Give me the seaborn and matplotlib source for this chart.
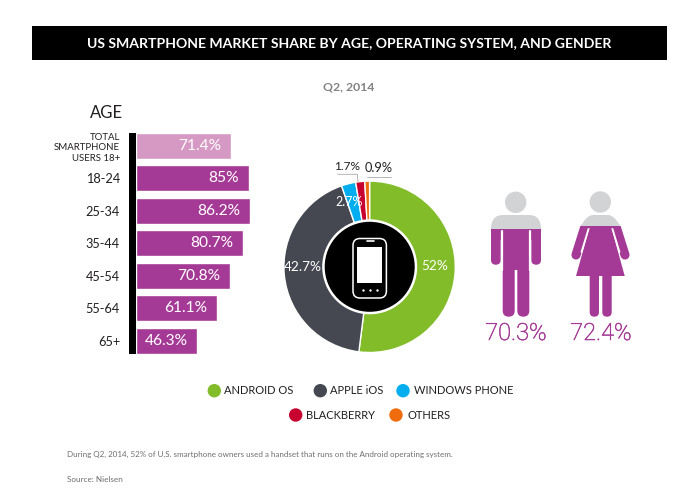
import matplotlib
matplotlib.use("Agg")
import matplotlib.pyplot as plt
import matplotlib.patheffects as pe
import seaborn as sns
from matplotlib.patches import Circle, FancyBboxPatch, PathPatch, Polygon, Rectangle
from matplotlib.path import Path

# data
ages = ["TOTAL\nSMARTPHONE\nUSERS 18+", "18-24", "25-34", "35-44", "45-54", "55-64", "65+"]
age_share = [71.4, 85, 86.2, 80.7, 70.8, 61.1, 46.3]
systems = ["ANDROID OS", "APPLE iOS", "WINDOWS PHONE", "BLACKBERRY", "OTHERS"]
os_share = [52, 42.7, 2.7, 1.7, 0.9]
gender_share = [70.3, 72.4]

PURPLE = "#A53A96"
LIGHT_PURPLE = "#D699C3"
GREY = "#D1D3D4"
INK = "#231F20"
os_colors = ["#82BC29", "#454850", "#00AEEF", "#C8002F", "#EF6C0E"]

sns.set_theme(style="white")
plt.rcParams["font.family"] = ["Lato", "DejaVu Sans"]

W, H = 695, 496
fig = plt.figure(figsize=(W / 100, H / 100), dpi=100, facecolor="white")


def px_axes(left, top, right, bottom, **kw):
    return fig.add_axes([left / W, 1 - bottom / H, (right - left) / W, (bottom - top) / H], **kw)


# age bars
ax = px_axes(136, 129.8, 268.6, 356.8)
sns.barplot(x=age_share, y=ages, hue=ages, palette=[LIGHT_PURPLE] + [PURPLE] * 6, legend=False,
            saturation=1, width=0.8, dodge=False, ax=ax)
ax.set_xlim(0, 100)
ax.set_ylim(6.5, -0.5)
ax.set_xticks([])
ax.set_xlabel("")
ax.set_ylabel("")
sns.despine(ax=ax, left=True, bottom=True)
ax.patch.set_alpha(0)
ax.tick_params(axis="y", length=0, pad=11.5, labelsize=9.2, labelcolor=INK)
for i, lab in enumerate(ax.get_yticklabels()):
    if i == 0:
        lab.set_fontsize(6.9)
        lab.set_linespacing(1.25)
for c in ax.containers:
    ax.bar_label(c, fmt="%g%%", padding=-7, color="white", fontsize=11.2, label_type="edge")
for t in ax.texts:
    t.set_ha("right")
    t.set_va("center")

# operating system donut
ax_pie = px_axes(369.6 - 90, 266.8 - 90, 369.6 + 90, 266.8 + 90)
ax_pie.pie(os_share, colors=os_colors, startangle=90, counterclock=False, radius=85.7 / 90)
ax_pie.set_xlim(-1, 1)
ax_pie.set_ylim(-1, 1)

# everything else sits on a pixel-sized overlay
ov = fig.add_axes([0, 0, 1, 1], zorder=5)
ov.set_xlim(0, W)
ov.set_ylim(H, 0)
ov.axis("off")
ov.patch.set_alpha(0)

ov.add_patch(Rectangle((32, 26), 635, 34, color="black", lw=0))
ov.text(349.5, 43, "US SMARTPHONE MARKET SHARE BY AGE, OPERATING SYSTEM, AND GENDER",
        color="white", fontsize=10.1, fontweight="bold", ha="center", va="center")
ov.text(349, 87, "Q2, 2014", color="#808285", fontsize=8.8, fontweight="bold", ha="center", va="center")
ov.text(123, 112.5, "AGE", color=INK, fontsize=12, ha="right", va="center")
ov.add_patch(Rectangle((128.7, 132.5), 7.3, 221, color="black", lw=0))

# centre of the donut with the phone
ox, oy = 369.7, 266.8
ov.add_patch(Circle((ox, oy), 47.5, color="white", lw=0))
ov.add_patch(Circle((ox, oy), 45, color="black", lw=0))
ov.add_patch(FancyBboxPatch((353, 238.5), 33.4, 59.5, boxstyle="round,pad=0,rounding_size=7",
                            fc="black", ec="white", lw=1.1))
ov.add_patch(Rectangle((357.3, 247.3), 25, 35.4, color="white", lw=0))
ov.plot([366.5, 373.5], [241.2, 241.2], color="white", lw=1.2, solid_capstyle="round")
ov.scatter([363.3, 370, 376.7], [290.3] * 3, s=3, color="white", lw=0)

# donut labels
ov.text(434.6, 266.5, f"{os_share[0]:g}%", color="white", fontsize=9.8, ha="center", va="center")
ov.text(303, 267, f"{os_share[1]:g}%", color="white", fontsize=9.8, ha="center", va="center")
ov.text(349, 202, f"{os_share[2]:g}%", color="white", fontsize=9, ha="center", va="center")
ov.text(347, 167, f"{os_share[3]:g}%", color=INK, fontsize=8.6, ha="center", va="center")
ov.text(378.6, 168, f"{os_share[4]:g}%", color=INK, fontsize=9.2, ha="center", va="center")
ov.plot([337.7, 357.3, 358], [174.3, 174.3, 182], color="#A7A9AC", lw=0.6)
ov.plot([366.7, 390.7], [176.7, 176.7], color="#A7A9AC", lw=0.6)


# person icons: the purple part rises from the feet by the share
def person(x_draw, top, bottom, share, label, label_x):
    level = bottom - (bottom - top) * share / 100
    clip_top = Rectangle((0, 0), W, level, transform=ov.transData)
    clip_low = Rectangle((0, level), W, H - level, transform=ov.transData)
    for color, clip in ((GREY, clip_top), (PURPLE, clip_low)):
        for artist in x_draw(color):
            artist.set_clip_path(clip)
    ov.text(label_x, 333.5, label, color=PURPLE, fontsize=17, family="Roboto", fontweight="light",
            ha="center", va="center",
            path_effects=[pe.withStroke(linewidth=0.4, foreground=PURPLE)])


def rbox(x0, y0, x1, y1, r, color):
    return ov.add_patch(FancyBboxPatch((x0, y0), x1 - x0, y1 - y0, mutation_aspect=1,
                                       boxstyle=f"round,pad=0,rounding_size={r}", fc=color, ec="none"))


def man(color):
    yoke = Path([(491, 240), (491, 229), (491, 215), (503, 215), (529, 215), (541, 215), (541, 229), (541, 240), (491, 240)],
                [Path.MOVETO, Path.LINETO, Path.CURVE3, Path.CURVE3, Path.LINETO, Path.CURVE3, Path.CURVE3,
                 Path.LINETO, Path.CLOSEPOLY])
    parts = [ov.add_patch(Circle((515.7, 202.3), 10.7, fc=color, ec="none")),
             ov.add_patch(PathPatch(yoke, fc=color, ec="none")),
             rbox(491, 225, 500.7, 264.7, 4.8, color),
             rbox(531.3, 225, 541, 264.7, 4.8, color),
             ov.add_patch(Rectangle((502.7, 225), 26.6, 45, fc=color, ec="none")),
             rbox(502.7, 250, 514.7, 316.7, 6, color),
             rbox(517.3, 250, 529.3, 316.7, 6, color)]
    for xs in ([501.7, 501.7], [530.3, 530.3]):
        parts += ov.plot(xs, [231, 270], color="white", lw=1.6, zorder=2.5)
    return parts


def woman(color):
    yoke = Path([(580, 228), (586, 215), (593, 215), (608, 215), (615, 215), (621, 228), (580, 228)],
                [Path.MOVETO, Path.CURVE3, Path.LINETO, Path.LINETO, Path.CURVE3, Path.LINETO, Path.CLOSEPOLY])
    parts = [ov.add_patch(Circle((600.3, 202), 10.7, fc=color, ec="none")),
             ov.add_patch(PathPatch(yoke, fc=color, ec="none")),
             ov.add_patch(Polygon([(590, 226), (611, 226), (624.7, 276), (576, 276)], fc=color, ec="none")),
             rbox(589.7, 265, 599, 316.7, 4.6, color),
             rbox(602.3, 265, 611.7, 316.7, 4.6, color)]
    parts += ov.plot([584.5, 576], [228, 255], color=color, lw=6.6, solid_capstyle="round")
    parts += ov.plot([616.5, 625], [228, 255], color=color, lw=6.6, solid_capstyle="round")
    parts += ov.plot([588.5, 581.5], [229, 252], color="white", lw=1.3)
    parts += ov.plot([612.5, 619.5], [229, 252], color="white", lw=1.3)
    return parts


person(man, 191.7, 316.7, gender_share[0], f"{gender_share[0]:g}%", 516)
person(woman, 191.3, 316.7, gender_share[1], f"{gender_share[1]:g}%", 601)

# legend
legend_pos = [(214.3, 390.7, 224.3), (320.3, 390.7, 330), (403, 390.7, 414), (295.7, 415, 306.3), (396, 415, 407)]
for name, col, (cx, cy, tx) in zip(systems, os_colors, legend_pos):
    ov.add_patch(Circle((cx, cy), 6.7, color=col, lw=0))
    ov.text(tx, cy + 0.3, name, color=INK, fontsize=8, ha="left", va="center")

ov.text(67, 454, "During Q2, 2014, 52% of U.S. smartphone owners used a handset that runs on the Android operating system.",
        color="#6D6E71", fontsize=5.8, ha="left", va="center")
ov.text(67, 479, "Source: Nielsen", color="#6D6E71", fontsize=5.9, ha="left", va="center")

fig.savefig("out.png", dpi=100)
